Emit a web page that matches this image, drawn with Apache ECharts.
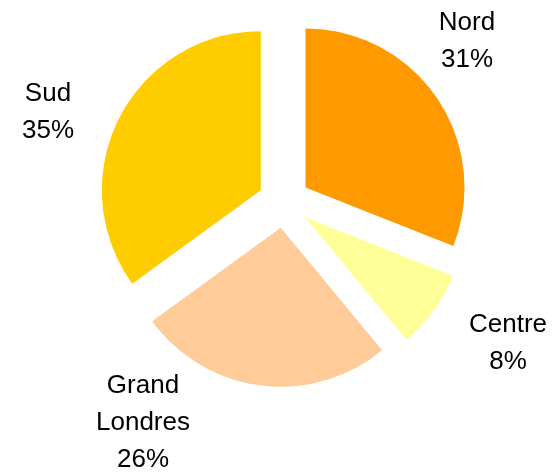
<!DOCTYPE html>
<html>
<head>
<meta charset="utf-8">
<script src="https://cdn.jsdelivr.net/npm/echarts@6/dist/echarts.min.js"></script>
<style>html,body{margin:0;padding:0;background:#fff;}#c{width:556px;height:472px;}</style>
</head>
<body>
<div id="c"></div>
<script>
const categories = ['Nord', 'Centre', 'Grand\nLondres', 'Sud'];
const values = [31, 8, 26, 35];
const colors = ['#FF9900', '#FFFF99', '#FFCC99', '#FFCC00'];
const labelPos = [[467, 41], [508, 343], [143, 423], [48, 112]];

const chart = echarts.init(document.getElementById('c'), null, {renderer: 'canvas'});
chart.setOption({
  animation: false,
  backgroundColor: '#ffffff',
  graphic: categories.map((c, i) => ({
    type: 'text',
    x: labelPos[i][0],
    y: labelPos[i][1],
    silent: true,
    style: {
      text: c + '\n' + values[i] + '%',
      font: '26px "Liberation Sans", Arial, sans-serif',
      lineHeight: 37,
      fill: '#000',
      align: 'center',
      verticalAlign: 'middle'
    }
  })),
  series: [{
    type: 'pie',
    center: [284, 202],
    radius: 159,
    startAngle: 90,
    clockwise: true,
    selectedMode: 'multiple',
    selectedOffset: 26,
    emphasis: {disabled: true},
    label: {show: false},
    labelLine: {show: false},
    data: categories.map((c, i) => ({
      name: c, value: values[i], selected: true,
      itemStyle: {color: colors[i]}
    }))
  }]
});
</script>
</body>
</html>
